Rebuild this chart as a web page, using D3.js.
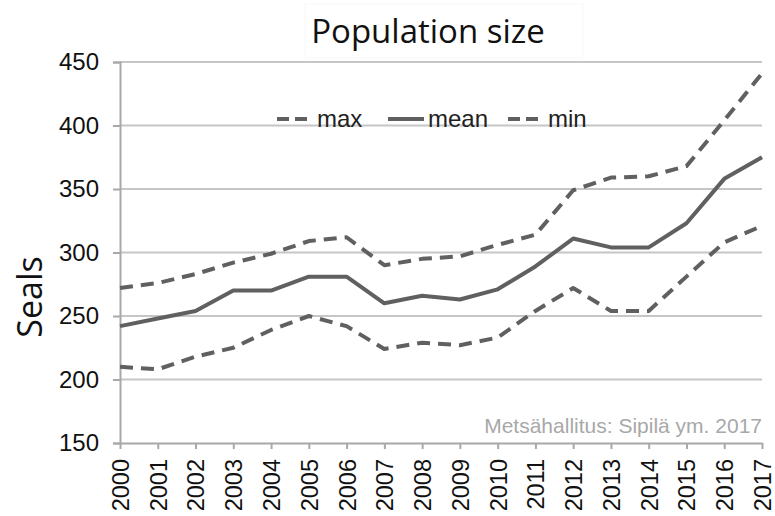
<!DOCTYPE html>
<html><head><meta charset="utf-8">
<script src="https://cdn.jsdelivr.net/npm/d3@7"></script>
<style>body{margin:0;background:#fff}svg{display:block}</style>
</head><body>
<svg id="c" width="775" height="516"></svg>
<script>
const years = [2000,2001,2002,2003,2004,2005,2006,2007,2008,2009,2010,2011,2012,2013,2014,2015,2016,2017];
const maxVals  = [272,276,283,292,299,309,312,290,295,297,306,314,349,359,360,368,404,441];
const meanVals = [242,248,254,270,270,281,281,260,266,263,271,289,311,304,304,323,358,375];
const minVals  = [210,208,218,225,239,250,242,224,229,227,233,254,272,254,254,281,308,321];
const yTicks = [150,200,250,300,350,400,450];
const title = "Population size";
const yLabel = "Seals";
const credit = "Metsähallitus: Sipilä ym. 2017";
const legendItems = [{name:"max",dash:true},{name:"mean",dash:false},{name:"min",dash:true}];

const svg = d3.select("#c");
const L = 120, R = 762, T = 62, B = 443;
const x = d3.scalePoint().domain(years).range([L, R]);
const y = d3.scaleLinear().domain([150, 450]).range([B, T]);
const lineCol = "#606060";
const dashArr = "13,8";
const sans = "Liberation Sans, Arial, sans-serif";

// title box (very faint)
svg.append("rect").attr("x", 305).attr("y", 4).attr("width", 278).attr("height", 54)
  .attr("fill", "#fff").attr("stroke", "#f7f7f7").attr("stroke-width", 1);

// gridlines
svg.append("g").selectAll("line").data(yTicks.filter(d => d > 150)).join("line")
  .attr("x1", L).attr("x2", R).attr("y1", d => y(d)).attr("y2", d => y(d))
  .attr("stroke", "#c6c6c6").attr("stroke-width", 2);

// y axis
const yAxis = svg.append("g").attr("transform", `translate(${L},0)`)
  .call(d3.axisLeft(y).tickValues(yTicks).tickSize(7).tickPadding(14));
yAxis.select(".domain").attr("stroke", "#a8a8a8").attr("stroke-width", 2);
yAxis.selectAll(".tick line").attr("stroke", "#a8a8a8").attr("stroke-width", 2);
yAxis.selectAll(".tick text").attr("font-family", sans)
  .attr("font-size", 24).attr("fill", "#111");

// x axis
const xAxis = svg.append("g").attr("transform", `translate(0,${B})`)
  .call(d3.axisBottom(x).tickSize(6).tickPadding(5).tickSizeOuter(0));
xAxis.select(".domain").attr("stroke", "#a8a8a8").attr("stroke-width", 2);
xAxis.selectAll(".tick line").attr("stroke", "#a8a8a8").attr("stroke-width", 2);
xAxis.selectAll(".tick text").attr("font-family", sans)
  .attr("font-size", 23.5).attr("fill", "#111")
  .attr("transform", "rotate(-90)").attr("text-anchor", "end")
  .attr("x", -16).attr("y", 0).attr("dy", "0.36em");

// lines
const line = d3.line().x((d, i) => x(years[i])).y(d => y(d));
[[maxVals, true], [meanVals, false], [minVals, true]].forEach(([vals, dash]) => {
  svg.append("path").datum(vals).attr("d", line).attr("fill", "none")
    .attr("stroke", lineCol).attr("stroke-width", 4)
    .attr("stroke-linejoin", "round")
    .attr("stroke-dasharray", dash ? dashArr : null);
});

// legend
const legX = [277, 388, 508];
const legY = 119;
legendItems.forEach((it, i) => {
  svg.append("line").attr("x1", legX[i]).attr("x2", legX[i] + 36)
    .attr("y1", legY).attr("y2", legY).attr("stroke", lineCol).attr("stroke-width", 4)
    .attr("stroke-dasharray", it.dash ? "12,6" : null);
  svg.append("text").attr("x", legX[i] + 40).attr("y", legY + 8)
    .attr("font-family", sans).attr("font-size", 24)
    .attr("fill", "#222").text(it.name);
});

// title
svg.append("text").attr("x", 428).attr("y", 43).attr("text-anchor", "middle")
  .attr("font-family", "Open Sans, sans-serif").attr("font-size", 33).attr("fill", "#111").text(title);

// y label
svg.append("text").attr("transform", "translate(42,297) rotate(-90)").attr("text-anchor", "middle")
  .attr("font-family", "Open Sans, sans-serif").attr("font-size", 34).attr("fill", "#111").text(yLabel);

// credit
svg.append("text").attr("x", 762).attr("y", 433).attr("text-anchor", "end")
  .attr("font-family", sans).attr("font-size", 21)
  .attr("fill", "#a8a8a8").text(credit);
</script>
</body></html>
